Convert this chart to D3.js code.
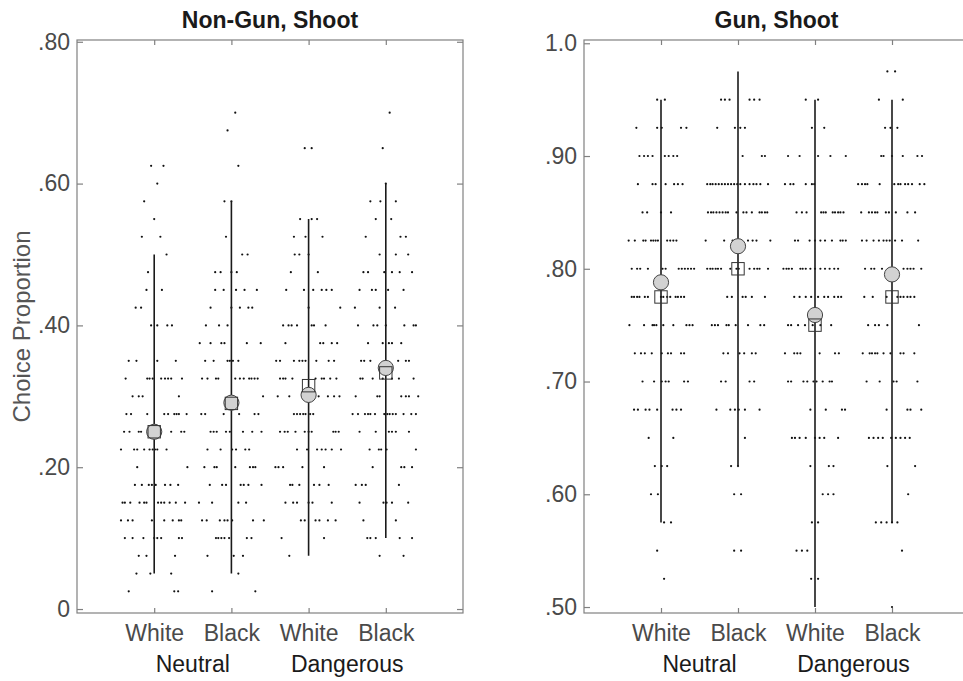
<!DOCTYPE html>
<html>
<head>
<meta charset="utf-8">
<script src="https://cdn.jsdelivr.net/npm/d3@7"></script>
<style>
  html, body { margin: 0; padding: 0; background: #fff; }
  svg { display: block; font-family: "Liberation Sans", Arial, Helvetica, sans-serif; }
</style>
</head>
<body>
<svg id="chart" width="963" height="681"></svg>
<script>
// ---------------- DATA ----------------
const categories = ["White", "Black", "White", "Black"];
const groups = ["Neutral", "Dangerous"];
const titles = ["Non-Gun, Shoot", "Gun, Shoot"];
const yAxisLabel = "Choice Proportion";

const leftTicks = [0, .20, .40, .60, .80];
const leftTickLabels = ["0", ".20", ".40", ".60", ".80"];
const rightTicks = [.50, .60, .70, .80, .90, 1.0];
const rightTickLabels = [".50", ".60", ".70", ".80", ".90", "1.0"];
const leftYLim = [-0.0056, 0.8025];
const rightYLim = [0.4947, 1.0029];

// summary per category: mean (circle), median (square), interval low/high (line)
const leftMean = [.250, .291, .302, .340];
const leftMedian = [.250, .290, .315, .333];
const leftLow = [.050, .050, .075, .100];
const leftHigh = [.500, .575, .550, .600];
const rightMean = [.788, .820, .759, .795];
const rightMedian = [.775, .800, .750, .775];
const rightLow = [.575, .625, .500, .575];
const rightHigh = [.950, .975, .950, .950];

// individual proportions: [value, [jitter of each point, in 1/100 of a category step]]
const leftNeutralWhite = [
  [.625,[-4,12]],[.600,[4]],[.575,[-13]],[.550,[0]],[.525,[-16,8]],[.500,[16]],[.475,[-8]],
  [.450,[-10,10]],[.425,[-24,-17]],[.400,[-4,4,17,23]],[.350,[-33,-23,4,28]],
  [.325,[-37,-9,-6,-2,9,14,18,22,36]],[.300,[-28,-20,-15,32]],
  [.275,[-36,-30,-9,13,18,26,29,32,42]],[.250,[-39,-32,-20,-17,0,8,22,35,39]],
  [.225,[-43,-26,-22,-13,-6,-2,1,4,16]],[.200,[-22,43]],
  [.175,[-25,-16,-7,-3,2,14,21,31]],[.150,[-41,-38,-31,-19,-13,-10,5,9,13,20,28,40]],
  [.125,[-43,-34,-28,-3,13,24,32,35]],[.100,[-38,-28,-14,0,4,9,32,36]],
  [.075,[-20,-10,27]],[.050,[-23,-5,22]],[.025,[-33,26,31]]
];
const leftNeutralBlack = [
  [.700,[5]],[.675,[-5]],[.625,[9]],[.575,[-9,0]],[.525,[-7]],[.500,[14,21]],
  [.475,[-21,-14,0,7]],[.450,[-21,-10,6,17,33]],[.425,[-27,0,11,22,27]],[.400,[-33,-16,-5]],
  [.375,[-41,-27,-13,-9,20,38]],[.350,[-34,-23,-5,-2,2,9]],
  [.325,[-38,-31,-20,-17,5,11,16,23,26,30,34]],[.300,[0,41]],[.275,[-39,-34,-10,10,30,35]],
  [.250,[-27,-23,-19,-7,-2,15,27,39]],[.225,[-31,-14,1,6,18,23]],
  [.200,[-35,-22,-19,5,24,28,31]],[.175,[-28,-12,-7,12,16,22,39]],[.150,[-42,-25,9,19]],
  [.125,[-38,-32,-15,-9,-5,1,28,42]],[.100,[-20,-17,-13,-9,-3,20,26]],
  [.075,[-31,3,15]],[.050,[9]],[.025,[-25,31]]
];
const leftDangerousWhite = [
  [.650,[-5,4]],[.550,[-11,4,11]],[.525,[-19,-4,18]],[.500,[-18,-12,0]],[.475,[-23,12]],
  [.450,[-29,-6,6,17,23,30]],[.425,[0,41]],[.400,[-33,-26,-22,-15,4,7,22]],
  [.375,[-30,15,19,30,37]],[.350,[-42,-37,-19,-12,-8,-4,10,26,33]],
  [.325,[-37,-33,-30,-21,9,17,20,28,36]],[.300,[-40,-25,-2,13,25,33,40]],
  [.275,[-19,-15,-11,-7,-4,2,6]],[.250,[-37,-31,-27,-17,-5,0,4,32,35,39]],
  [.225,[-15,-2,11,17,22,30,42]],[.200,[-43,-39,-33,-8,20]],[.175,[-24,-21,-12,7,14,26]],
  [.150,[-30,-20,-15,0,5,30]],[.125,[-10,-5,9,14,25,35]],[.100,[-35,20]],[.075,[-25]]
];
const leftDangerousBlack = [
  [.700,[5]],[.650,[-4]],[.600,[0]],[.575,[-20,-7,13]],[.550,[-13,7]],[.525,[-26,19,26]],
  [.500,[-8,13,29]],[.475,[-29,-23,-2,8,18,34]],[.450,[-34,-18,-13,3,23]],[.425,[-40,-8,12]],
  [.400,[-36,-16,-11,0,24,36,39]],[.375,[-23,-4,4,8,20]],[.350,[-32,-28,-20,16,26,30]],
  [.325,[-33,-30,-17,-4,8,17,36]],[.300,[-39,-11,-8,20,26,30,42]],
  [.275,[-43,-36,-27,-23,-20,-14,-2,2,5,9,13,23,33,39]],[.250,[-34,-13,4,8,13,30]],
  [.225,[-21,-9,-6,1,39]],[.200,[-17,20,24,34]],[.175,[-39,-31,-26,17]],
  [.150,[-34,-3,1,8,29]],[.125,[-29,13]],[.100,[-24,-20,-13,18,34]],[.075,[-8,23]]
];
const rightNeutralWhite = [
  [.950,[-5,5]],[.925,[-32,-5,1,26,33]],[.900,[-28,-22,-17,-11,5,10,16,21]],
  [.875,[-30,-11,-7,6,17,22,28]],[.850,[-24,-18,0,13]],
  [.825,[-42,-34,-23,-20,-13,-10,-7,-4,8,12,16,20]],
  [.800,[-38,-31,-27,-17,2,6,23,27,31,35,39,43]],
  [.775,[-38,-35,-31,-28,-21,-17,0,3,8,12,19,22,26,30]],
  [.750,[-41,-22,-11,-9,-6,3,16,33,37,41]],[.725,[-34,-26,-21,-12,1,9,13,26,30]],
  [.700,[-24,-9,1,6,10,30,35]],[.675,[-35,-30,-20,-15,-5,15,20,26]],[.650,[-16,16]],
  [.625,[-8,1,8]],[.600,[-13,-4]],[.575,[4,13]],[.550,[-5]],[.525,[4]]
];
const rightNeutralBlack = [
  [.950,[-22,-17,-11,15,21,28]],[.925,[-27,-4,3,9]],[.900,[6,31,35]],
  [.875,[-40,-36,-33,-29,-25,-21,-17,-13,-9,-5,-1,3,9,15,20,24,29,39]],
  [.850,[-39,-35,-32,-28,-24,-20,-16,-13,-2,7,11,18,28,31,35,38]],
  [.825,[-42,-18,-7,-3,4,13,19,24,42]],
  [.800,[-40,-36,-33,-29,-26,-22,-10,-2,1,15,21,25,28,39]],
  [.775,[-14,-8,6,10,18,35]],[.750,[-34,-30,-26,-15,-12,-3,13,29,34]],
  [.725,[-19,-13,2,8,18,23]],[.700,[-22,-16,15,21]],[.675,[-28,-10,-4,1,9,28]],
  [.650,[9]],[.625,[-9,0]],[.600,[-5,4]],[.550,[-5,4]]
];
const rightDangerousWhite = [
  [.950,[-12,4]],[.925,[-4,12]],[.900,[-35,-20,4,20,40]],[.875,[-39,-32,-28,-12,-4,-1]],
  [.850,[-24,-17,-11,8,11,14,23,26,30,33,37]],[.825,[-26,-22,-7,0,7,13,22,33,36,40]],
  [.800,[-41,-37,-34,-30,-19,-16,-12,-6,0,7,13,19,25,30]],
  [.775,[-27,-20,-12,-5,4,12,17,25,30,34]],[.750,[-35,-31,-22,-13,-3,7,21]],
  [.725,[-39,-27,-23,-19,6,26,31]],[.700,[-35,-31,-15,-10,-2,2,10,19,22]],
  [.675,[-6,14,35,39]],[.650,[-30,-26,-20,-12,0,6,12,30]],[.625,[-6,18,24]],
  [.600,[10,17,24]],[.575,[-4,4]],[.550,[-24,-17,-10]],[.525,[-5,4]]
];
const rightDangerousBlack = [
  [.975,[-6,4]],[.950,[-17,14]],[.925,[-9,-2,7]],[.900,[-14,-11,0,14,33,39]],
  [.875,[-44,-39,-35,-32,-16,3,8,11,17,21,26,36,42]],
  [.850,[-40,-30,-26,-22,-19,-8,-4,5,20,30]],[.825,[-39,-33,-24,-17,-11,-7,-3,4,13,34]],
  [.800,[-35,-27,-23,-13,15,20,24,28,38]],[.775,[-36,-25,-7,7,11,15,20,24,29]],
  [.750,[-31,-22,-17,-6,35]],[.725,[-38,-29,-26,-22,-19,-11,-2,11,15,29]],
  [.700,[-33,-16,2,6,33]],[.675,[-7,20,24,38]],[.650,[-30,-24,-18,-12,-1,5,11,17,23]],
  [.625,[-6,30]],[.600,[21]],[.575,[-21,-14,-7,0,7]],[.550,[13]],[.500,[0]]
];

// ---------------- DRAW ----------------
const svg = d3.select("#chart");
const FONT = 23;
const axisGray = "#808080";
const textGray = "#4a4a4a";

const panels = [
  { title: titles[0], x0: 77, x1: 463, ylim: leftYLim, ticks: leftTicks, tickLabels: leftTickLabels,
    dots: [leftNeutralWhite, leftNeutralBlack, leftDangerousWhite, leftDangerousBlack],
    mean: leftMean, median: leftMedian, low: leftLow, high: leftHigh, ylabel: true },
  { title: titles[1], x0: 584, x1: 969, ylim: rightYLim, ticks: rightTicks, tickLabels: rightTickLabels,
    dots: [rightNeutralWhite, rightNeutralBlack, rightDangerousWhite, rightDangerousBlack],
    mean: rightMean, median: rightMedian, low: rightLow, high: rightHigh, ylabel: false }
];
const plotTop = 40, plotBottom = 613;

panels.forEach(p => {
  const x = d3.scaleLinear().domain([0, 5]).range([p.x0, p.x1]);
  const y = d3.scaleLinear().domain(p.ylim).range([plotBottom, plotTop]);
  const g = svg.append("g");
  const catPos = categories.map((c, i) => i + 1);

  // box
  g.append("rect").attr("x", p.x0).attr("y", plotTop).attr("width", p.x1 - p.x0).attr("height", plotBottom - plotTop)
    .attr("fill", "none").attr("stroke", axisGray).attr("stroke-width", 1.2);

  // left axis with labels
  const yAxisL = d3.axisLeft(y).tickValues(p.ticks).tickSizeInner(-6).tickSizeOuter(0).tickPadding(7)
    .tickFormat((d, i) => p.tickLabels[i]);
  const gl = g.append("g").attr("transform", `translate(${p.x0},0)`).call(yAxisL);
  // right axis ticks only
  const yAxisR = d3.axisRight(y).tickValues(p.ticks).tickSizeInner(-6).tickSizeOuter(0).tickFormat("");
  const gr = g.append("g").attr("transform", `translate(${p.x1},0)`).call(yAxisR);
  // bottom axis with category labels
  const xAxisB = d3.axisBottom(x).tickValues(catPos).tickSizeInner(-5).tickSizeOuter(0).tickPadding(12)
    .tickFormat((d, i) => categories[i]);
  const gb = g.append("g").attr("transform", `translate(0,${plotBottom})`).call(xAxisB);
  // top axis ticks only
  const xAxisT = d3.axisTop(x).tickValues(catPos).tickSizeInner(-5).tickSizeOuter(0).tickFormat("");
  const gt = g.append("g").attr("transform", `translate(0,${plotTop})`).call(xAxisT);

  [gl, gr, gb, gt].forEach(a => {
    a.select(".domain").remove();
    a.selectAll(".tick line").attr("stroke", axisGray).attr("stroke-width", 1.2);
    a.selectAll(".tick text").attr("fill", textGray).style("font-size", FONT + "px")
      .style("font-family", '"Liberation Sans", Arial, sans-serif');
  });

  // group labels
  groups.forEach((gname, i) => {
    g.append("text").attr("x", x(1.5 + 2 * i)).attr("y", 672).attr("text-anchor", "middle")
      .attr("fill", "#1a1a1a").style("font-size", FONT + "px").text(gname);
  });

  // title
  g.append("text").attr("x", (p.x0 + p.x1) / 2).attr("y", 28).attr("text-anchor", "middle")
    .attr("fill", "#1a1a1a").style("font-size", FONT + "px").style("font-weight", "bold").text(p.title);

  if (p.ylabel) {
    g.append("text").attr("transform", `translate(22,${(plotTop + plotBottom) / 2}) rotate(-90)`)
      .attr("text-anchor", "middle").attr("dy", "0.35em").attr("fill", "#555")
      .style("font-size", "24px").text(yAxisLabel);
  }

  // dots
  p.dots.forEach((rows, i) => {
    const pts = [];
    rows.forEach(([v, js]) => js.forEach(j => pts.push({ v, xv: i + 1 + j / 100 })));
    g.append("g").selectAll("circle").data(pts).join("circle")
      .attr("cx", d => x(d.xv)).attr("cy", d => y(d.v)).attr("r", 1.1).attr("fill", "#111");
  });

  // interval lines
  g.append("g").selectAll("line").data(catPos).join("line")
    .attr("x1", d => x(d)).attr("x2", d => x(d))
    .attr("y1", (d, i) => y(p.low[i])).attr("y2", (d, i) => y(p.high[i]))
    .attr("stroke", "#1a1a1a").attr("stroke-width", 1.6);

  // means (circles)
  g.append("g").selectAll("circle").data(catPos).join("circle")
    .attr("cx", d => x(d)).attr("cy", (d, i) => y(p.mean[i])).attr("r", 7.6)
    .attr("fill", "#d2d2d2").attr("stroke", "#444").attr("stroke-width", 1);

  // medians (squares)
  g.append("g").selectAll("rect").data(catPos).join("rect")
    .attr("x", d => x(d) - 6.2).attr("y", (d, i) => y(p.median[i]) - 6.2)
    .attr("width", 12.4).attr("height", 12.4)
    .attr("fill", "none").attr("stroke", "#333").attr("stroke-width", 1);
});
</script>
</body>
</html>
